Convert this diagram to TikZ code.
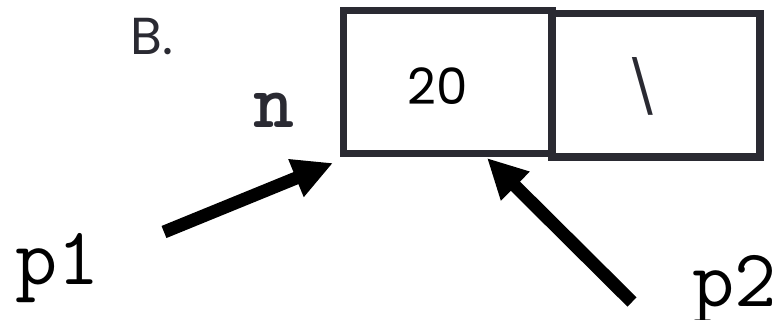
\documentclass[tikz,border=0pt]{standalone}
\usepackage{fontspec}
\setmainfont{Poppins}
\usetikzlibrary{arrows.meta}
\definecolor{ink}{HTML}{2A2A32}
\tikzset{
  cell/.style={draw=ink, line width=7.5pt, line join=miter},
  ptr/.style={line width=13pt, -{Triangle[length=40pt,width=38pt]}},
  varname/.style={font=\ttfamily\fontsize{82}{82}\selectfont, anchor=base west, inner sep=0pt},
}
\begin{document}
\begin{tikzpicture}[x=1pt, y=-1pt]
  \useasboundingbox (0,0) rectangle (780,320);
  % the list node: data cell and next cell
  \draw[cell] (343.5,10.5) rectangle (552,153.5);
  \draw[cell] (552,13.5) rectangle (760,157);
  \node[anchor=base, inner sep=0pt, font=\fontsize{50}{50}\selectfont] (data) at (438,105) {20};
  \node[inner sep=0pt, text=ink, font=\fontsize{52}{52}\selectfont] (next) at (643,86) {\textbackslash};
  \coordinate (cellA) at (333,163);
  \coordinate (cellB) at (487,158);
  % labels
  \node[anchor=base west, inner sep=0pt, text=ink, font=\fontsize{52}{52}\selectfont] (title) at (130,55) {B.};
  \node[anchor=base west, inner sep=0pt, text=ink, font=\ttfamily\bfseries\fontsize{78}{78}\selectfont] (n) at (253,128) {n};
  \node[varname] (p1) at (15,285) {p1};
  \node[varname] (p2) at (692,307) {p2};
  % pointers
  \coordinate (t1) at (164,232);
  \coordinate (t2) at (632,302);
  \draw[ptr] (t1) -- (cellA);
  \draw[ptr] (t2) -- (cellB);
\end{tikzpicture}
\end{document}
